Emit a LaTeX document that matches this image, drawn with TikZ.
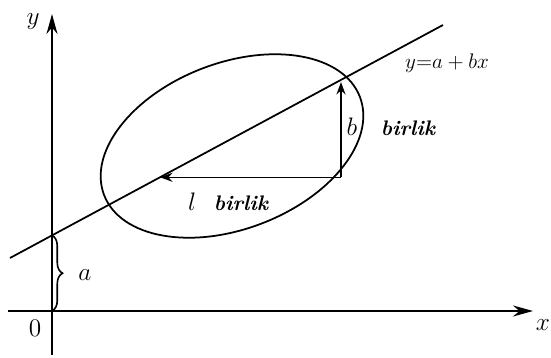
\documentclass[tikz,border=0pt]{standalone}
\usepackage{tikz}
\usetikzlibrary{arrows.meta,decorations.pathreplacing}

\begin{document}
\begin{tikzpicture}[
  x=0.02cm, y=0.02cm,
  every node/.style={font=\Large},
  axisline/.style={line width=1.1pt, -{Stealth[length=4mm, width=2.2mm]}},
  plotline/.style={line width=1pt},
  steparrow/.style={line width=0.9pt, -{Stealth[length=2.5mm, width=1.8mm]}},
  unitlabel/.style={font=\large\bfseries\itshape}
]
\useasboundingbox (0,0) rectangle (551,358);

% axes
\coordinate (O) at (52,47);
\coordinate (ybot) at (52,3);
\coordinate (ytop) at (52,344);
\coordinate (xleft) at (8,47);
\coordinate (xright) at (533,47);
\draw[axisline] (ybot) -- (ytop);
\draw[axisline] (xleft) -- (xright);
\node (ylab) at (33,336) {$y$};
\node (xlab) at (543,33) {$x$};
\node (olab) at (35,30) {$0$};

% regression line
\coordinate (lstart) at (10,100);
\coordinate (lend) at (443,333);
\coordinate (A) at (52,122.6);
\draw[plotline] (lstart) -- (lend);
\node[font=\large] (eqlab) at (447,295) {$y{=}a+bx$};

% ellipse
\draw[plotline] (232,212) ellipse[x radius=137, y radius=83, rotate=21];

% intercept brace
\draw[line width=0.9pt, decorate, decoration={brace, amplitude=6pt}] (A) -- (O);
\node (alab) at (85,83) {$a$};

% slope triangle
\coordinate (P) at (160,180.7);
\coordinate (Q) at (341,180.7);
\coordinate (R) at (341,276);
\draw[steparrow] (Q) -- (P);
\draw[steparrow] (Q) -- (R);
\node (llab) at (192,156) {$l$};
\node[unitlabel] (lunit) at (241,155) {birlik};
\node (blab) at (352,231) {$b$};
\node[unitlabel] (bunit) at (408,230) {birlik};
\end{tikzpicture}
\end{document}
